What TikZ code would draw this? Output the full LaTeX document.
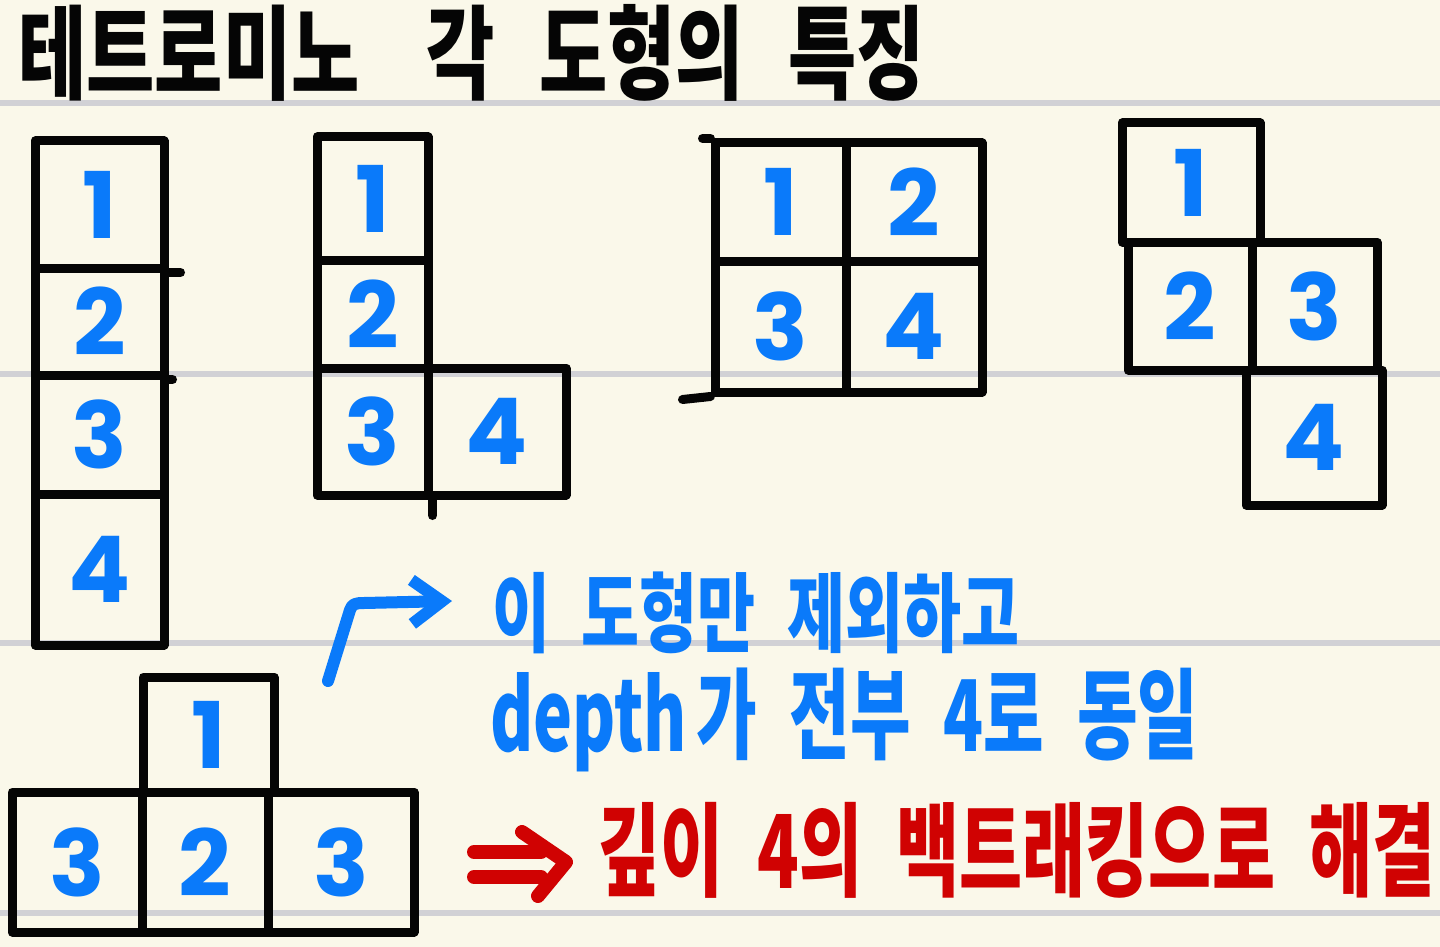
\documentclass[tikz,border=0pt]{standalone}
\usepackage{fontspec}
\usepackage{graphicx}
\newfontfamily\kr{Noto Sans CJK KR}
\newfontfamily\numf{Poppins}
\usetikzlibrary{arrows.meta}
\definecolor{paper}{RGB}{250,248,234}
\definecolor{rulegray}{RGB}{209,209,213}
\definecolor{ink}{RGB}{5,5,5}
\definecolor{pen}{RGB}{10,122,250}
\definecolor{redpen}{RGB}{208,2,2}
\tikzset{
  cell/.style={draw=ink, line width=9pt, line join=round, inner sep=0pt, text=pen,
    font=\numf\bfseries\fontsize{92}{92}\selectfont},
  inkpen/.style={draw=ink, line width=9pt, line cap=round},
  bluepen/.style={draw=pen, line width=12pt, line cap=round, line join=round},
  redstroke/.style={draw=redpen, line width=14pt, line cap=round, line join=round},
  rule/.style={draw=rulegray, line width=6pt},
  txt/.style={anchor=north west, inner sep=0pt},
}
\begin{document}
\begin{tikzpicture}[x=1pt,y=-1pt]
\useasboundingbox (0,0) rectangle (1440,947);
\fill[paper] (0,0) rectangle (1440,947);
% ruled lines
\coordinate (l1a) at (0,103); \coordinate (l1b) at (1440,103);
\coordinate (l2a) at (0,374); \coordinate (l2b) at (1440,374);
\coordinate (l3a) at (0,643); \coordinate (l3b) at (1440,643);
\coordinate (l4a) at (0,913); \coordinate (l4b) at (1440,913);
\draw[rule] (l1a) -- (l1b);
\draw[rule] (l2a) -- (l2b);
\draw[rule] (l3a) -- (l3b);
\draw[rule] (l4a) -- (l4b);

% title
\node[txt, text=ink] (title) at (18,4)
  {\resizebox*{907pt}{97pt}{\kr\bfseries 테트로미노\hspace{0.9em}각\hspace{0.6em}도형의\hspace{0.6em}특징}};

% shape 1: I
\node[cell, minimum width=129pt, minimum height=127pt] (c11) at (99.5,204.5) {1};
\node[cell, minimum width=129pt, minimum height=107pt] (c12) at (99.5,321.5) {2};
\node[cell, minimum width=129pt, minimum height=119pt] (c13) at (99.5,434.5) {3};
\node[cell, minimum width=129pt, minimum height=151pt] (c14) at (99.5,569.5) {4};
\draw[inkpen] (c11.south east) -- +(12,0);
\draw[inkpen] (c12.south east) -- +(4,0);

% shape 2: L
\node[cell, minimum width=111pt, minimum height=123pt] (c21) at (372.5,198.5) {1};
\node[cell, minimum width=111pt, minimum height=108pt] (c22) at (372.5,314) {2};
\node[cell, minimum width=111pt, minimum height=127pt] (c23) at (372.5,431.5) {3};
\node[cell, minimum width=138pt, minimum height=127pt] (c24) at (497,431.5) {4};
\draw[inkpen] (c23.south east) -- +(0,16);

% shape 3: O
\node[cell, minimum width=131pt, minimum height=118pt] (c31) at (780.5,202) {1};
\node[cell, minimum width=136pt, minimum height=118pt] (c32) at (914,202) {2};
\node[cell, minimum width=131pt, minimum height=131pt] (c33) at (780.5,326.5) {3};
\node[cell, minimum width=136pt, minimum height=131pt] (c34) at (914,326.5) {4};
\draw[inkpen] (c33.south west) -- +(-28,3);
\draw[inkpen] (c31.north west) -- +(-8,0);

% shape 4: S
\node[cell, minimum width=138pt, minimum height=119pt] (c41) at (1191,182.5) {1};
\node[cell, minimum width=124pt, minimum height=128pt] (c42) at (1190,306) {2};
\node[cell, minimum width=125pt, minimum height=128pt] (c43) at (1314.5,306) {3};
\node[cell, minimum width=136pt, minimum height=135pt] (c44) at (1314,437.5) {4};

% shape 5: T
\node[cell, minimum width=131pt, minimum height=115pt] (c51) at (208.5,734.5) {1};
\node[cell, minimum width=130pt, minimum height=140pt] (c52) at (77,862) {3};
\node[cell, minimum width=126pt, minimum height=140pt] (c53) at (205,862) {2};
\node[cell, minimum width=146pt, minimum height=140pt] (c54) at (341,862) {3};

% blue note
\node[txt, text=pen] (note1) at (492,572)
  {\resizebox*{527pt}{82pt}{\kr\bfseries 이\hspace{0.5em}도형만\hspace{0.5em}제외하고}};
\node[txt, text=pen] (note2) at (490,668)
  {\resizebox*{708pt}{104pt}{\kr\bfseries depth\hspace{0.15em}가\hspace{0.5em}전부\hspace{0.5em}4로\hspace{0.5em}동일}};
\coordinate (a0) at (328,681);
\coordinate (a1) at (350,610);
\coordinate (a2) at (452,601);
\draw[bluepen, -{Straight Barb[length=30pt,width=44pt]}]
  (a0) -- (a1) .. controls (352,604) and (355,603) .. (364,603) -- (a2);

% red conclusion
\coordinate (r1) at (474,852); \coordinate (r2) at (541,852);
\coordinate (r3) at (474,877); \coordinate (r4) at (541,877);
\coordinate (r5) at (522,832); \coordinate (r6) at (566,862); \coordinate (r7) at (538,896);
\draw[redstroke] (r1) -- (r2);
\draw[redstroke] (r3) -- (r4);
\draw[redstroke] (r5) -- (r6) -- (r7);
\node[txt, text=redpen] (concl) at (597,802)
  {\resizebox*{838pt}{96pt}{\kr\bfseries 깊이\hspace{0.5em}4의\hspace{0.5em}백트래킹으로\hspace{0.5em}해결}};
\end{tikzpicture}
\end{document}
